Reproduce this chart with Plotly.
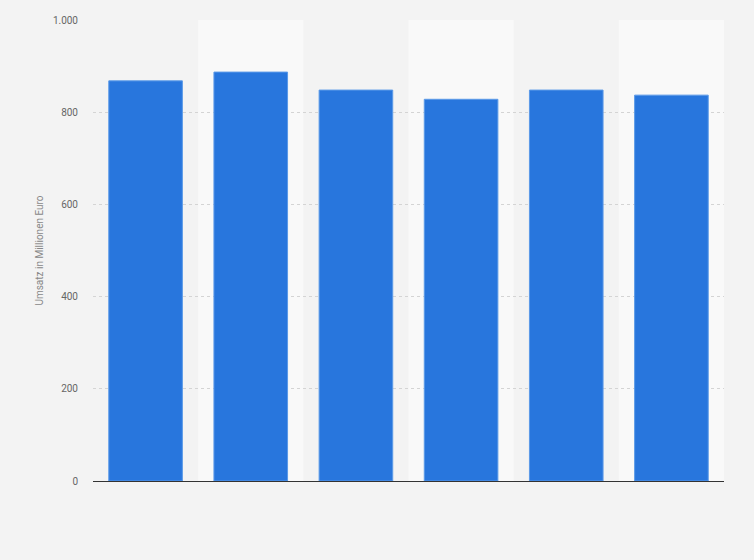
import plotly.graph_objects as go

# Umsatz per year (labels not shown on the chart)
categories = [0, 1, 2, 3, 4, 5]
umsatz = [868, 887, 848, 828, 848, 837]
y_ticks = [0, 200, 400, 600, 800, 1000]

fig = go.Figure()

fig.add_trace(go.Bar(
    x=categories, y=umsatz,
    width=0.7,
    marker=dict(color="#2876dd", line=dict(color="#5b9ae8", width=1)),
    hoverinfo="y",
))

# lighter background band behind every second column
shapes = []
for i in categories:
    if i % 2 == 1:
        shapes.append(dict(type="rect", xref="x", yref="y", layer="below",
                           x0=i - 0.5, x1=i + 0.5, y0=0, y1=y_ticks[-1],
                           fillcolor="#f9f9f9", line=dict(width=0)))

fig.update_layout(
    width=754, height=560,
    margin=dict(l=93, r=30, t=20, b=79),
    paper_bgcolor="#f3f3f3",
    plot_bgcolor="#f3f3f3",
    separators=",.",
    shapes=shapes,
    showlegend=False,
    font=dict(family="Roboto, Arial, sans-serif", size=10, color="#666666"),
    xaxis=dict(range=[-0.5, 5.5], showticklabels=False, showgrid=False,
               zeroline=False, showline=True, linecolor="#333333", linewidth=1,
               ticks=""),
    yaxis=dict(range=[0, 1000], tickvals=y_ticks, tickformat=",d",
               showgrid=True, gridcolor="#d4d4d4", griddash="dot", gridwidth=1,
               zeroline=False, ticks="", ticklabelstandoff=14,
               title=dict(text="Umsatz in Millionen Euro", standoff=7,
                          font=dict(size=10, color="#888888"))),
)

# drop the browser's default page margin so the chart fills the window
fig.write_html("out.html",
               config={"displayModeBar": False},
               post_script="document.body.style.margin='0';"
                           "document.body.style.background='#f3f3f3';")
